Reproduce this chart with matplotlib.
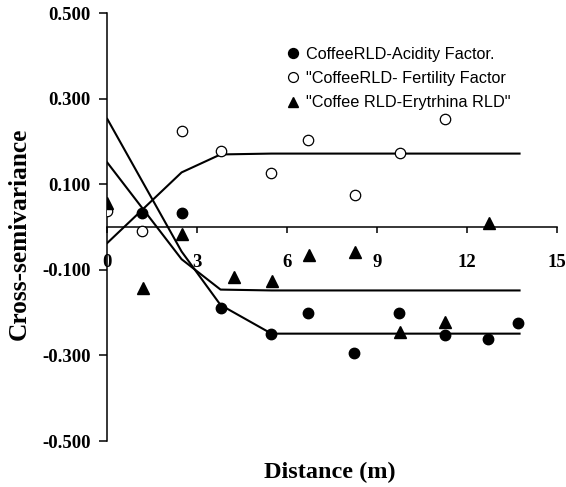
import matplotlib
matplotlib.use('Agg')
import matplotlib.pyplot as plt
from matplotlib.ticker import FuncFormatter

matplotlib.rcParams['axes.unicode_minus'] = False

# lag distances (m) and cross-semivariance values
acid_x = [1.17, 2.48, 3.78, 5.48, 6.70, 8.23, 9.72, 11.26, 12.72, 13.72]
acid_y = [0.034, 0.033, -0.190, -0.250, -0.201, -0.295, -0.201, -0.251, -0.261, -0.223]

fert_x = [0.0, 1.17, 2.48, 3.78, 5.48, 6.70, 8.26, 9.76, 11.28]
fert_y = [0.038, -0.010, 0.225, 0.178, 0.127, 0.203, 0.075, 0.173, 0.253]

eryt_x = [0.0, 1.20, 2.50, 4.22, 5.49, 6.72, 8.28, 9.76, 11.28, 12.73]
eryt_y = [0.056, -0.143, -0.016, -0.117, -0.125, -0.064, -0.058, -0.244, -0.221, 0.009]

# fitted model lines
acid_mx = [0.0, 2.48, 3.78, 5.48, 6.70, 8.23, 9.72, 11.26, 12.72, 13.76]
acid_my = [0.253, -0.057, -0.182, -0.249, -0.249, -0.249, -0.249, -0.249, -0.249, -0.249]

fert_mx = [0.0, 2.48, 3.78, 5.48, 6.70, 8.26, 9.76, 11.28, 12.72, 13.76]
fert_my = [-0.037, 0.128, 0.170, 0.172, 0.172, 0.172, 0.172, 0.172, 0.172, 0.172]

eryt_mx = [0.0, 2.48, 3.78, 5.48, 6.70, 8.26, 9.76, 11.28, 12.72, 13.76]
eryt_my = [0.151, -0.075, -0.146, -0.148, -0.148, -0.148, -0.148, -0.148, -0.148, -0.148]

labels = ['CoffeeRLD-Acidity Factor.',
          '"CoffeeRLD- Fertility Factor',
          '"Coffee RLD-Erytrhina RLD"']

xticks = [0, 3, 6, 9, 12, 15]
yticks = [-0.5, -0.3, -0.1, 0.1, 0.3, 0.5]

serif = 'Liberation Serif'
sans = 'Liberation Sans'

fig = plt.figure(figsize=(5.66, 4.87), dpi=100)
ax = fig.add_axes([107.3 / 566, 46 / 487, 449.4 / 566, 427.7 / 487])

# model lines
ax.plot(acid_mx, acid_my, color='black', lw=1.5)
ax.plot(fert_mx, fert_my, color='black', lw=1.5)
ax.plot(eryt_mx, eryt_my, color='black', lw=1.5)

# observed points
ax.plot(acid_x, acid_y, 'o', color='black', ms=7.5, ls='none', label=labels[0], zorder=3)
ax.plot(fert_x, fert_y, 'o', mfc='white', mec='black', mew=0.9, ms=7.5, ls='none',
        label=labels[1], zorder=3)
ax.plot(eryt_x, eryt_y, '^', color='black', ms=8, ls='none', label=labels[2], zorder=3)

ax.set_xlim(0, 15)
ax.set_ylim(-0.5, 0.5)

ax.spines['top'].set_visible(False)
ax.spines['right'].set_visible(False)
ax.spines['bottom'].set_position(('data', 0))
ax.spines['left'].set_linewidth(1.1)
ax.spines['bottom'].set_linewidth(1.1)

ax.set_xticks(xticks)
ax.set_yticks(yticks)
ax.yaxis.set_major_formatter(FuncFormatter(lambda v, p: '%.3f' % v))
ax.tick_params(axis='x', direction='out', length=4.5, width=1.1, pad=15)
ax.tick_params(axis='y', direction='out', length=5.8, width=1.1, pad=6)
for t in ax.get_xticklabels() + ax.get_yticklabels():
    t.set_fontfamily(serif)
    t.set_fontweight('bold')
    t.set_fontsize(13.5)

ax.set_ylabel('Cross-semivariance', fontfamily=serif, fontweight='bold', fontsize=18.3)
ax.yaxis.set_label_coords(-0.17, 0.484)
fig.text(330 / 566, 1 - 472 / 487, 'Distance (m)', fontfamily=serif, fontweight='bold',
         fontsize=17.5, ha='center', va='center')

ax.legend(loc='upper left', bbox_to_anchor=(286 / 566, 1 - 46.5 / 487),
          bbox_transform=fig.transFigure, frameon=False, numpoints=1,
          handlelength=0.8, handletextpad=0.45, borderpad=0, borderaxespad=0,
          labelspacing=0.58, markerscale=0.95, prop={'family': sans, 'size': 11.7})

fig.savefig('out.png', dpi=100)
